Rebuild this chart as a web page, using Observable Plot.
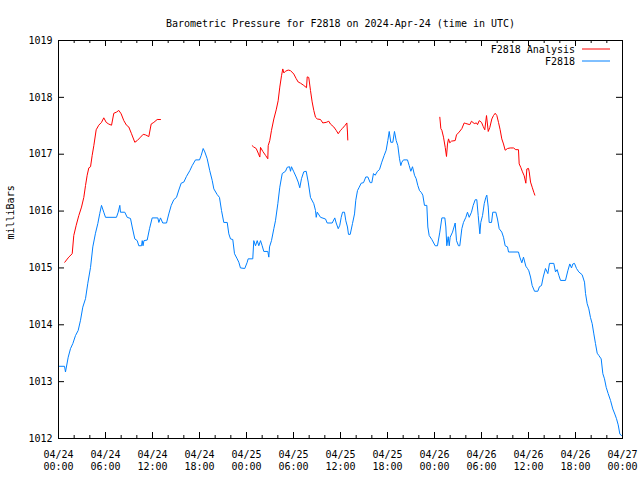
<!DOCTYPE html>
<html><head><meta charset="utf-8">
<script src="https://cdn.jsdelivr.net/npm/d3@7"></script>
<script src="https://cdn.jsdelivr.net/npm/@observablehq/plot@0.6"></script>
<style>
html,body{margin:0;padding:0;background:#fff;}
#chart{position:relative;width:640px;height:480px;}
svg{font-family:"DejaVu Sans Mono",monospace;}
</style></head>
<body><div id="chart"></div>
<script>
const titleText = "Barometric Pressure for F2818 on 2024-Apr-24 (time in UTC)";
const yLabel = "milliBars";
const seriesNames = ["F2818 Analysis", "F2818"];
const seriesColors = ["#ff0000", "#0080ff"];
const startUTC = Date.UTC(2024, 3, 24);
const yTicks = [1012, 1013, 1014, 1015, 1016, 1017, 1018, 1019];
const majorTickHours = [0, 6, 12, 18, 24, 30, 36, 42, 48, 54, 60, 66, 72];
const minorTickHours = [0,2,4,6,8,10,12,14,16,18,20,22,24,26,28,30,32,34,36,38,40,42,44,46,48,50,52,54,56,58,60,62,64,66,68,70,72];

// F2818 observations (hours since 04/24 00:00 UTC)
const stationHours = [0.0,0.77,0.89,1.24,1.53,1.83,2.17,2.51,2.81,3.10,3.45,3.74,4.09,4.38,4.72,5.02,5.27,5.49,5.78,6.00,7.40,7.62,7.83,7.91,8.46,8.77,9.19,9.41,9.74,10.05,10.25,10.60,10.69,10.79,10.91,11.32,11.62,11.96,12.68,12.81,13.02,13.31,13.79,14.08,14.39,14.72,15.06,15.36,15.66,16.00,16.34,16.76,17.07,17.49,18.00,18.22,18.47,18.68,18.98,19.31,19.62,19.83,20.26,20.55,20.81,21.10,21.54,21.74,21.96,22.25,22.47,22.81,23.02,23.23,23.78,24.09,24.21,24.80,24.93,25.15,25.37,25.57,25.79,26.00,26.21,26.72,26.85,26.94,27.19,27.49,27.70,28.00,28.25,28.56,28.98,29.20,29.49,29.62,29.74,30.04,30.34,30.60,30.80,31.02,31.31,31.62,31.88,32.17,32.59,32.81,32.90,33.03,33.45,34.09,34.30,34.94,35.27,35.45,35.71,35.91,36.09,36.26,36.51,36.68,36.89,37.02,37.24,37.53,37.79,37.95,38.17,38.39,38.64,38.94,39.23,39.49,39.79,40.00,40.21,40.43,40.72,40.98,41.27,41.58,41.83,42.04,42.22,42.42,42.68,42.89,43.11,43.32,43.53,43.70,43.83,44.04,44.55,44.77,44.98,45.19,45.45,45.66,45.87,46.09,46.30,46.51,46.72,47.02,47.15,47.32,47.66,48.09,48.38,48.68,48.94,49.32,49.45,49.57,49.75,49.88,50.00,50.30,50.64,50.81,51.06,51.23,51.49,51.70,52.00,52.21,52.43,52.72,52.94,53.20,53.40,53.58,53.79,53.91,54.13,54.35,54.55,54.68,54.86,54.98,55.28,55.44,55.83,56.04,56.26,56.59,56.81,57.02,57.32,57.45,58.72,58.89,59.15,59.36,59.66,59.87,60.04,60.26,60.47,60.77,61.19,61.40,61.66,61.88,62.17,62.47,62.68,63.23,63.45,63.66,63.87,64.09,64.72,65.02,65.27,65.49,65.66,65.87,66.13,66.42,66.85,67.15,67.28,67.49,67.70,67.91,68.13,68.34,68.55,68.77,68.98,69.28,69.49,69.70,69.92,70.17,70.47,70.76,71.02,71.23,71.45,71.66,71.87];
const stationValues = [1013.27,1013.27,1013.17,1013.43,1013.58,1013.67,1013.81,1013.90,1014.08,1014.31,1014.46,1014.73,1015.01,1015.37,1015.61,1015.78,1015.96,1016.10,1015.98,1015.89,1015.89,1015.98,1016.10,1015.98,1015.98,1015.89,1015.87,1015.72,1015.51,1015.48,1015.39,1015.39,1015.48,1015.39,1015.48,1015.49,1015.69,1015.88,1015.88,1015.80,1015.88,1015.79,1015.79,1015.95,1016.10,1016.20,1016.24,1016.37,1016.49,1016.51,1016.61,1016.71,1016.80,1016.90,1016.90,1016.98,1017.10,1017.04,1016.92,1016.71,1016.54,1016.39,1016.29,1016.24,1016.01,1015.80,1015.80,1015.60,1015.51,1015.50,1015.25,1015.16,1015.10,1015.00,1014.99,1015.10,1015.16,1015.16,1015.48,1015.39,1015.48,1015.39,1015.48,1015.39,1015.29,1015.29,1015.19,1015.37,1015.48,1015.69,1015.83,1016.13,1016.42,1016.66,1016.70,1016.77,1016.78,1016.70,1016.78,1016.69,1016.60,1016.51,1016.41,1016.57,1016.69,1016.70,1016.51,1016.24,1016.13,1016.01,1015.89,1015.98,1015.89,1015.86,1015.79,1015.79,1015.88,1015.79,1015.69,1015.75,1015.89,1015.98,1015.98,1015.83,1015.72,1015.59,1015.59,1015.78,1015.95,1016.19,1016.36,1016.42,1016.49,1016.50,1016.60,1016.60,1016.50,1016.50,1016.66,1016.63,1016.70,1016.73,1016.86,1016.98,1017.07,1017.24,1017.40,1017.21,1017.21,1017.40,1017.24,1017.15,1016.92,1016.80,1016.86,1016.90,1016.90,1016.80,1016.70,1016.78,1016.63,1016.57,1016.45,1016.36,1016.33,1016.28,1016.10,1016.10,1015.72,1015.57,1015.50,1015.39,1015.39,1015.63,1015.88,1015.88,1015.72,1015.39,1015.55,1015.39,1015.54,1015.63,1015.79,1015.48,1015.39,1015.39,1015.69,1015.80,1015.89,1015.98,1015.89,1015.98,1016.10,1016.20,1016.20,1015.92,1015.60,1015.80,1015.92,1016.13,1016.24,1016.28,1016.07,1015.80,1015.80,1015.98,1015.98,1015.86,1015.69,1015.63,1015.54,1015.39,1015.37,1015.28,1015.28,1015.19,1015.09,1015.19,1015.03,1014.99,1014.95,1014.84,1014.69,1014.59,1014.59,1014.67,1014.69,1014.84,1014.99,1014.90,1015.08,1015.08,1014.93,1014.97,1014.87,1014.78,1014.78,1014.95,1015.07,1015.00,1015.07,1015.08,1014.99,1014.93,1014.88,1014.75,1014.55,1014.37,1014.28,1014.13,1014.02,1013.84,1013.67,1013.50,1013.46,1013.40,1013.14,1013.05,1012.90,1012.79,1012.67,1012.52,1012.43,1012.35,1012.24,1012.08,1012.05];

// F2818 Analysis (null = gap)
const analysisHours = [0.80,1.31,1.75,1.95,2.26,2.59,2.94,3.23,3.45,3.66,3.87,4.09,4.30,4.51,4.81,5.14,5.49,5.78,6.09,6.42,6.77,7.06,7.40,7.70,8.00,8.34,8.68,8.97,9.32,9.74,10.05,10.47,10.81,11.11,11.53,11.83,12.17,12.60,13.02,
  null,
  24.73,24.89,25.24,25.49,25.70,25.79,26.08,26.43,26.72,26.77,26.97,27.19,27.49,27.79,28.04,28.25,28.47,28.63,28.77,28.98,29.32,29.62,30.04,30.34,30.60,30.89,31.31,31.66,31.75,31.95,32.17,32.38,32.59,32.81,33.03,33.45,33.74,34.17,34.51,34.72,35.14,35.45,35.71,36.00,36.22,36.60,36.81,36.89,36.93,
  null,
  48.68,48.81,48.94,49.15,49.37,49.53,49.66,49.79,49.95,50.17,50.64,50.81,51.15,51.49,51.79,52.00,52.51,52.72,53.07,53.36,53.49,53.71,54.00,54.21,54.42,54.64,54.86,55.06,55.32,55.53,55.75,55.96,56.17,56.38,56.59,56.81,57.02,57.32,57.66,58.09,58.38,58.72,58.81,59.01,59.23,59.45,59.66,59.79,60.00,60.09,60.26,60.47,60.68,60.81];
const analysisValues = [1015.10,1015.19,1015.25,1015.57,1015.75,1015.92,1016.07,1016.24,1016.45,1016.63,1016.76,1016.78,1016.98,1017.15,1017.43,1017.51,1017.56,1017.64,1017.56,1017.53,1017.51,1017.72,1017.74,1017.77,1017.71,1017.59,1017.51,1017.48,1017.36,1017.21,1017.24,1017.30,1017.35,1017.34,1017.31,1017.53,1017.56,1017.61,1017.61,
  null,
  1017.15,1017.13,1017.10,1017.02,1016.95,1017.12,1017.05,1016.98,1016.92,1017.15,1017.24,1017.42,1017.62,1017.78,1017.94,1018.18,1018.38,1018.50,1018.43,1018.46,1018.48,1018.47,1018.41,1018.33,1018.27,1018.25,1018.21,1018.17,1018.36,1018.35,1018.12,1017.92,1017.77,1017.65,1017.62,1017.61,1017.55,1017.56,1017.58,1017.53,1017.48,1017.42,1017.36,1017.42,1017.45,1017.51,1017.55,1017.39,1017.25,
  null,
  1017.65,1017.45,1017.42,1017.30,1017.12,1016.96,1017.18,1017.27,1017.20,1017.23,1017.24,1017.34,1017.39,1017.45,1017.55,1017.54,1017.52,1017.58,1017.54,1017.55,1017.52,1017.59,1017.56,1017.49,1017.43,1017.68,1017.40,1017.47,1017.62,1017.68,1017.72,1017.68,1017.56,1017.43,1017.27,1017.18,1017.07,1017.10,1017.11,1017.11,1017.08,1017.08,1016.83,1016.77,1016.69,1016.62,1016.49,1016.74,1016.75,1016.69,1016.51,1016.42,1016.33,1016.28];

const toDate = h => h == null ? null : new Date(startUTC + h * 3600e3);
const station = stationHours.map((h, i) => ({t: toDate(h), v: stationValues[i]}));
const analysis = analysisHours.map((h, i) => ({t: toDate(h), v: analysisValues[i]}));
const majors = majorTickHours.map(toDate);
const minors = minorTickHours.map(toDate);

const W = 640, H = 480, mL = 58, mR = 18, mT = 40, mB = 42;
const pw = W - mL - mR, ph = H - mT - mB;
const fmt = d3.utcFormat("%m/%d\n%H:%M");

const svg = Plot.plot({
  width: W, height: H,
  marginLeft: mL, marginRight: mR, marginTop: mT, marginBottom: mB,
  style: {fontFamily: "'DejaVu Sans Mono', monospace", fontSize: "10px", background: "#fff"},
  x: {type: "utc", domain: [toDate(0), toDate(72)]},
  y: {domain: [1012, 1019]},
  marks: [
    Plot.line(station, {x: "t", y: "v", stroke: seriesColors[1], strokeWidth: 1}),
    Plot.line(analysis, {x: "t", y: "v", stroke: seriesColors[0], strokeWidth: 1}),
    Plot.tickX(minors, {x: d => d, insetTop: ph - 3, stroke: "black"}),
    Plot.tickX(minors, {x: d => d, insetBottom: ph - 3, stroke: "black"}),
    Plot.tickX(majors, {x: d => d, insetTop: ph - 6, stroke: "black"}),
    Plot.tickX(majors, {x: d => d, insetBottom: ph - 6, stroke: "black"}),
    Plot.tickY(yTicks, {y: d => d, insetRight: pw - 6, stroke: "black"}),
    Plot.tickY(yTicks, {y: d => d, insetLeft: pw - 6, stroke: "black"}),
    Plot.frame({stroke: "black"}),
    Plot.axisX({ticks: majors, tickSize: 0, tickPadding: 11, tickFormat: fmt, lineHeight: 1.2, fontSize: 10, fill: "black", label: null}),
    Plot.axisY({ticks: yTicks, tickSize: 0, tickPadding: 6, tickFormat: d => String(d), fontSize: 10, fill: "black", label: null}),
    Plot.text([titleText], {frameAnchor: "top", dy: -21, fontSize: 10, fill: "black"}),
    Plot.text([yLabel], {frameAnchor: "left", rotate: -90, dx: -48, fontSize: 10, fill: "black"})
  ]
});
document.getElementById("chart").appendChild(svg);

// legend (top-right, inside frame)
const lg = d3.select(svg).append("g").attr("font-family", "'DejaVu Sans Mono', monospace").attr("font-size", 10);
seriesNames.forEach((name, i) => {
  const y = mT + 9 + i * 12;
  lg.append("text").attr("x", W - mR - 47).attr("y", y).attr("dy", "0.35em").attr("text-anchor", "end").attr("fill", "black").text(name);
  lg.append("line").attr("x1", W - mR - 40).attr("x2", W - mR - 12).attr("y1", y).attr("y2", y).attr("stroke", seriesColors[i]).attr("stroke-width", 1);
});
</script></body></html>
